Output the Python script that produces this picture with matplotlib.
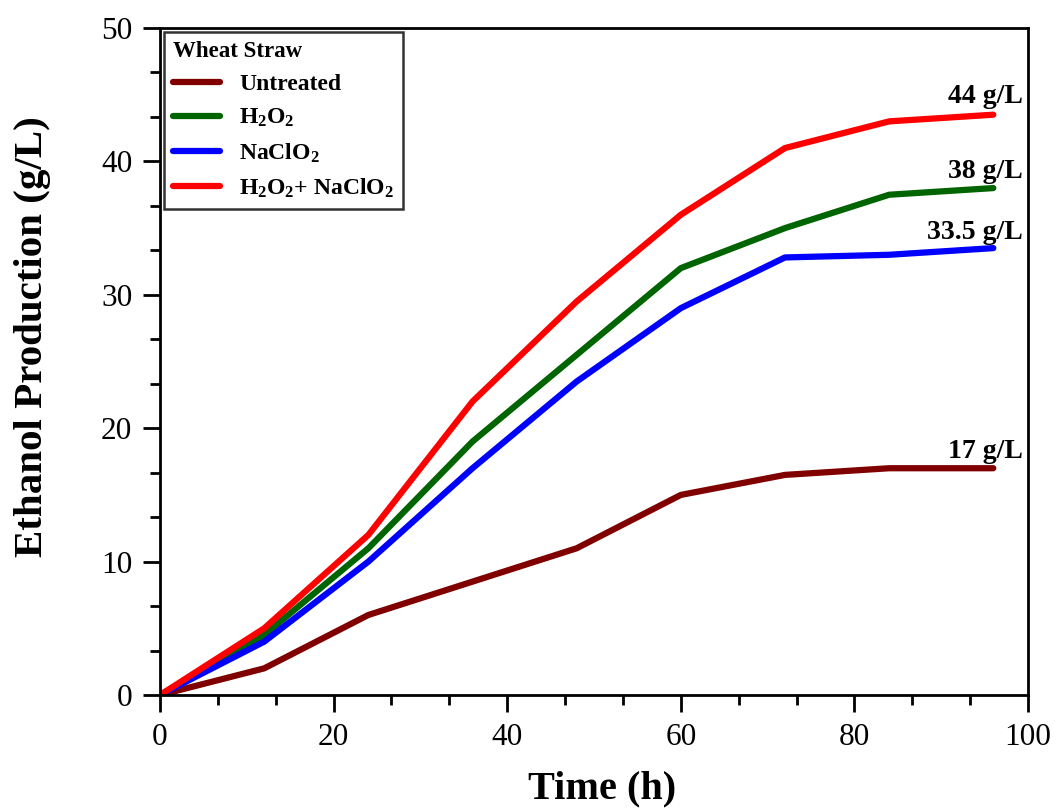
import matplotlib.pyplot as plt
from matplotlib.ticker import MultipleLocator

time_h = [0, 12, 24, 36, 48, 60, 72, 84, 96]
untreated = [0, 2, 6, 8.5, 11, 15, 16.5, 17, 17]
h2o2 = [0, 4.5, 11, 19, 25.5, 32, 35, 37.5, 38]
naclo2 = [0, 4, 10, 17, 23.5, 29, 32.8, 33, 33.5]
combined = [0, 5, 12, 22, 29.5, 36, 41, 43, 43.5]

labels = ['Untreated', r'H$_2$O$_2$', r'NaClO$_2$', r'H$_2$O$_2$+ NaClO$_2$']
colors = ['#800000', '#006400', '#0000ff', '#ff0000']
end_labels = ['17 g/L', '38 g/L', '33.5 g/L', '44 g/L']
end_label_y = [17.8, 38.75, 34.2, 44.4]

plt.rcParams['font.family'] = ['Liberation Serif', 'DejaVu Serif']
plt.rcParams['mathtext.fontset'] = 'custom'
plt.rcParams['mathtext.rm'] = 'Liberation Serif:bold'
plt.rcParams['mathtext.it'] = 'Liberation Serif:bold'
plt.rcParams['mathtext.bf'] = 'Liberation Serif:bold'

fig = plt.figure(figsize=(10.57, 8.11), dpi=100)
ax = fig.add_axes([0.1514, 0.143, 0.8212, 0.8225])

series = [untreated, h2o2, naclo2, combined]
for vals, lab, c in zip(series, labels, colors):
    ax.plot(time_h, vals, color=c, lw=4.5, label=lab, solid_capstyle='round')

for txt, yy in zip(end_labels, end_label_y):
    ax.text(99.4, yy, txt, ha='right', va='baseline', fontsize=20, fontweight='bold')

ax.set_xlim(0, 100)
ax.set_ylim(0, 50)
ax.xaxis.set_major_locator(MultipleLocator(20))
ax.xaxis.set_minor_locator(MultipleLocator(20 / 3))
ax.yaxis.set_major_locator(MultipleLocator(10))
ax.yaxis.set_minor_locator(MultipleLocator(10 / 3))
ax.tick_params(which='major', direction='out', length=12, width=2, labelsize=22.5, pad=8)
ax.tick_params(which='minor', direction='out', length=7, width=2)
for sp in ax.spines.values():
    sp.set_linewidth(2)

ax.set_xlabel('Time (h)', fontsize=29, fontweight='bold')
ax.set_ylabel('Ethanol Production (g/L)', fontsize=29.5, fontweight='bold')
ax.xaxis.set_label_coords(0.509, -0.113)
ax.yaxis.set_label_coords(-0.126, 0.537)

leg = ax.legend(title='Wheat Straw', loc='upper left', fontsize=17, title_fontsize=16.5,
                frameon=True, fancybox=False, edgecolor='black', borderaxespad=0.15,
                handlelength=2.0, labelspacing=0.5, alignment='left')
leg.get_title().set_fontweight('bold')
leg.get_frame().set_linewidth(1.8)
for t in leg.get_texts():
    t.set_fontweight('bold')

fig.savefig('out.png', dpi=100)
